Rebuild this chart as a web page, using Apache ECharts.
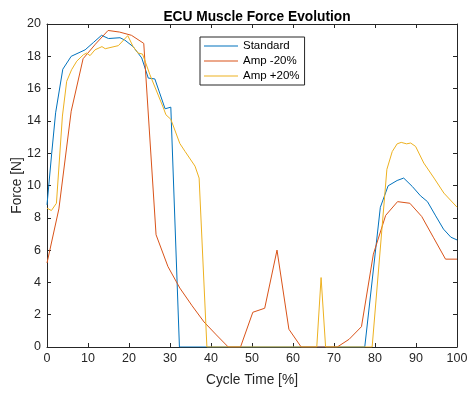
<!DOCTYPE html>
<html>
<head>
<meta charset="utf-8">
<script src="https://cdn.jsdelivr.net/npm/echarts@6/dist/echarts.min.js"></script>
<style>
html,body{margin:0;padding:0;background:#fff;}
#chart{width:471px;height:394px;}
</style>
</head>
<body>
<div id="chart"></div>
<script>
const titleText = 'ECU Muscle Force Evolution';
const xLabel = 'Cycle Time [%]';
const yLabel = 'Force [N]';
const seriesNames = ['Standard', 'Amp -20%', 'Amp +20%'];

const stdX = [0, 1.15, 2.1, 3.85, 5.9, 9.3, 11.3, 13.3, 15, 17.8, 19, 21, 22.2, 23.1, 24.7, 26.3, 28.8, 30.2, 32.3, 77.5, 81.3, 83.2, 85.4, 87, 89.1, 91.1, 92.8, 94.8, 96.7, 98.5, 100];
const stdY = [8.8, 12.0, 14.5, 17.2, 18.0, 18.4, 18.85, 19.3, 19.1, 19.15, 19.0, 18.6, 18.2, 17.9, 16.65, 16.6, 14.75, 14.85, 0, 0, 8.65, 9.98, 10.31, 10.46, 9.94, 9.36, 9.0, 8.12, 7.3, 6.8, 6.63];

const minusX = [0, 2.9, 5.9, 8.8, 11.8, 14.9, 17.7, 20.6, 23.6, 26.6, 29.5, 32.4, 35.4, 38.3, 41.3, 44.2, 47.2, 50.2, 53.1, 56.1, 59.0, 62.0, 64.9, 67.9, 70.8, 73.7, 76.7, 79.6, 82.6, 85.5, 88.5, 91.4, 94.3, 97.2, 100];
const minusY = [5.2, 8.55, 14.6, 17.85, 18.75, 19.6, 19.5, 19.3, 18.8, 6.95, 4.98, 3.65, 2.55, 1.55, 0.75, 0, 0, 2.15, 2.4, 6.0, 1.1, 0, 0, 0, 0, 0.48, 1.26, 5.75, 8.15, 9.0, 8.9, 8.08, 6.76, 5.44, 5.44];

const plusX = [0, 1.07, 2.3, 3.76, 4.8, 6.0, 7.26, 8.9, 9.7, 10.5, 11.7, 13.4, 14.2, 17.4, 19.7, 21, 22.2, 23.3, 25.1, 28.4, 29, 30.2, 32.4, 33.7, 36.1, 37.1, 39, 65.8, 66.85, 67.95, 79.3, 82.9, 84.2, 85.4, 86.4, 87.7, 88.7, 89.9, 91.9, 94.4, 96.8, 100];
const plusY = [8.6, 8.45, 8.9, 14.3, 16.45, 17.17, 17.7, 18.1, 18.2, 18.04, 18.4, 18.6, 18.47, 18.66, 19.28, 18.6, 18.2, 18.14, 16.86, 14.8, 14.38, 14.1, 12.6, 12.1, 11.2, 10.46, 0, 0, 4.3, 0, 0, 11.0, 12.1, 12.58, 12.67, 12.58, 12.63, 12.42, 11.39, 10.46, 9.53, 8.66];

const colors = ['#0072BD', '#D95319', '#EDB120'];
const FONT = '"Liberation Sans", Arial, Helvetica, sans-serif';
const AX = '#262626';

function pairs(xs, ys) { return xs.map((x, i) => [x, ys[i]]); }

const chart = echarts.init(document.getElementById('chart'), null, {renderer: 'canvas'});

const axisCommon = {
  type: 'value',
  axisLine: {show: true, onZero: false, lineStyle: {color: AX, width: 1}},
  axisTick: {show: true, inside: true, length: 4, lineStyle: {color: AX, width: 1}},
  splitLine: {show: false}
};

chart.setOption({
  animation: false,
  backgroundColor: '#fff',
  color: colors,
  textStyle: {fontFamily: FONT},
  title: {
    text: titleText,
    left: 252,
    textAlign: 'center',
    top: 5,
    textStyle: {fontFamily: FONT, fontWeight: 'bold', fontSize: 13.75, color: '#000'}
  },
  grid: {left: 47, top: 24, width: 410, height: 323, containLabel: false, outerBoundsMode: 'none'},
  legend: {
    data: seriesNames,
    orient: 'vertical',
    left: 200,
    top: 37,
    icon: 'rect',
    itemWidth: 34,
    itemHeight: 1,
    itemGap: 3,
    padding: [3, 5, 3, 4],
    borderColor: AX,
    borderWidth: 1,
    backgroundColor: '#fff',
    textStyle: {fontFamily: FONT, fontSize: 11.5, color: '#000', lineHeight: 11.5}
  },
  xAxis: [
    Object.assign({}, axisCommon, {
      min: 0, max: 100, interval: 10, position: 'bottom',
      name: xLabel, nameLocation: 'middle', nameGap: 26, nameMoveOverlap: false,
      nameTextStyle: {fontFamily: FONT, fontSize: 13.75, color: AX},
      axisLabel: {fontFamily: FONT, fontSize: 12.5, color: AX, margin: 5}
    }),
    Object.assign({}, axisCommon, {
      min: 0, max: 100, interval: 10, position: 'top',
      axisLabel: {show: false}
    })
  ],
  yAxis: [
    Object.assign({}, axisCommon, {
      min: 0, max: 20, interval: 2, position: 'left',
      name: yLabel, nameLocation: 'middle', nameGap: 23, nameMoveOverlap: false,
      nameTextStyle: {fontFamily: FONT, fontSize: 13.75, color: AX},
      axisLabel: {fontFamily: FONT, fontSize: 12.5, color: AX, margin: 6}
    }),
    Object.assign({}, axisCommon, {
      min: 0, max: 20, interval: 2, position: 'right',
      axisLabel: {show: false}
    })
  ],
  series: [
    {name: seriesNames[0], type: 'line', symbol: 'none', xAxisIndex: 0, yAxisIndex: 0,
     lineStyle: {width: 1}, data: pairs(stdX, stdY)},
    {name: seriesNames[1], type: 'line', symbol: 'none', xAxisIndex: 0, yAxisIndex: 0,
     lineStyle: {width: 1}, data: pairs(minusX, minusY)},
    {name: seriesNames[2], type: 'line', symbol: 'none', xAxisIndex: 0, yAxisIndex: 0,
     lineStyle: {width: 1}, data: pairs(plusX, plusY)}
  ]
});
</script>
</body>
</html>
